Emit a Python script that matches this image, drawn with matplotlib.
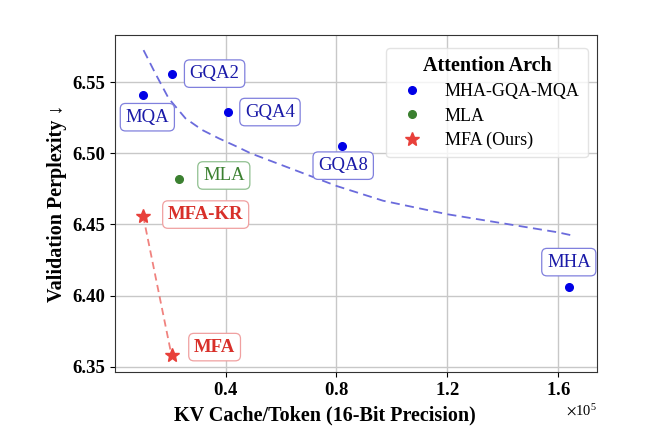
"""Validation perplexity vs. KV cache per token for several attention architectures."""
import matplotlib
matplotlib.use('Agg')
import matplotlib.pyplot as plt

plt.rcParams['font.family'] = ['Liberation Serif', 'DejaVu Serif']
plt.rcParams['mathtext.fontset'] = 'stix'

# MHA / GQA / MQA family
mha_names = ['MQA', 'GQA2', 'GQA4', 'GQA8', 'MHA']
mha_kv = [10240, 20480, 40960, 81920, 163840]
mha_ppl = [6.541, 6.556, 6.529, 6.505, 6.406]

# MLA
mla_kv = [23300]
mla_ppl = [6.482]

# MFA (ours)
mfa_names = ['MFA-KR', 'MFA']
mfa_kv = [10240, 20480]
mfa_ppl = [6.456, 6.358]

# fitted trend for MHA-GQA-MQA
trend_kv = [10370, 14610, 19430, 25490, 31540, 37560, 43620, 49060,
            67190, 80130, 96810, 120010, 159900, 164360]
trend_ppl = [6.5725, 6.5562, 6.5386, 6.5246, 6.5164, 6.5105, 6.5051, 6.5000,
             6.4866, 6.4770, 6.4667, 6.4572, 6.4445, 6.4426]

BLUE = '#0000e6'
BLUE_TXT = '#1a1aa8'
GREEN = '#3b8030'
RED = '#e8403a'

fig = plt.figure(figsize=(6.56, 4.4), dpi=100)
ax = fig.add_axes([0.175, 0.155, 0.735, 0.765])

ax.plot(trend_kv, trend_ppl, '--', color='#6b6bdc', lw=1.3, dashes=(5, 3), zorder=2)
ax.plot(mfa_kv, mfa_ppl, '--', color=RED, alpha=0.65, lw=1.3, dashes=(4, 2.5), zorder=2)

ax.plot(mha_kv, mha_ppl, 'o', color=BLUE, ms=5.5, ls='none', label='MHA-GQA-MQA', zorder=3)
ax.plot(mla_kv, mla_ppl, 'o', color=GREEN, ms=5.5, ls='none', label='MLA', zorder=3)
ax.plot(mfa_kv, mfa_ppl, '*', color=RED, ms=10, ls='none', label='MFA (Ours)', zorder=3)


def tag(x, y, s, dx, dy, color, edge, bold=False):
    ax.annotate(s, (x, y), xytext=(dx, dy), textcoords='offset points',
                ha='center', va='center', fontsize=13.5, color=color,
                fontweight='bold' if bold else 'normal',
                bbox=dict(boxstyle='round,pad=0.28', fc='white', ec=edge, lw=0.9),
                zorder=4)


mha_offsets = [(3, -16), (31, 0), (30, 0), (1, -14), (0, 18)]
for name, x, y, (dx, dy) in zip(mha_names, mha_kv, mha_ppl, mha_offsets):
    tag(x, y, name, dx, dy, BLUE_TXT, '#8080dd')

tag(mla_kv[0], mla_ppl[0], 'MLA', 32, 2.5, GREEN, '#90c090')

mfa_offsets = [(45, 1), (31, 6)]
for name, x, y, (dx, dy) in zip(mfa_names, mfa_kv, mfa_ppl, mfa_offsets):
    tag(x, y, name, dx, dy, '#d8302a', '#f0a0a0', bold=True)

ax.set_xlim(0, 174000)
ax.set_ylim(6.3465, 6.583)
ax.set_xticks([40000, 80000, 120000, 160000])
ax.set_yticks([6.35, 6.40, 6.45, 6.50, 6.55])
ax.ticklabel_format(axis='x', style='sci', scilimits=(0, 0), useMathText=True)
ax.yaxis.set_major_formatter(matplotlib.ticker.FormatStrFormatter('%.2f'))
ax.xaxis.get_offset_text().set_fontsize(10.5)
for lab in ax.get_xticklabels() + ax.get_yticklabels():
    lab.set_fontweight('bold')
ax.tick_params(labelsize=13.5)

ax.grid(True, color='#c8c8c8', lw=1.0)
ax.set_axisbelow(True)
for sp in ax.spines.values():
    sp.set_color('#333333')

ax.set_xlabel('KV Cache/Token (16-Bit Precision)', fontsize=14.5, fontweight='bold')
ax.xaxis.set_label_coords(0.436, -0.1)
ax.set_ylabel('Validation Perplexity \u2193', fontsize=14.5, fontweight='bold')

leg = ax.legend(title='Attention Arch', loc='upper right', fontsize=13,
                title_fontproperties={'weight': 'bold', 'size': 14.5},
                handletextpad=0.8, borderpad=0.45, labelspacing=0.4,
                bbox_to_anchor=(0.981, 0.962), borderaxespad=0)
leg.get_frame().set_edgecolor('#dddddd')

fig.savefig('out.png', dpi=100)
